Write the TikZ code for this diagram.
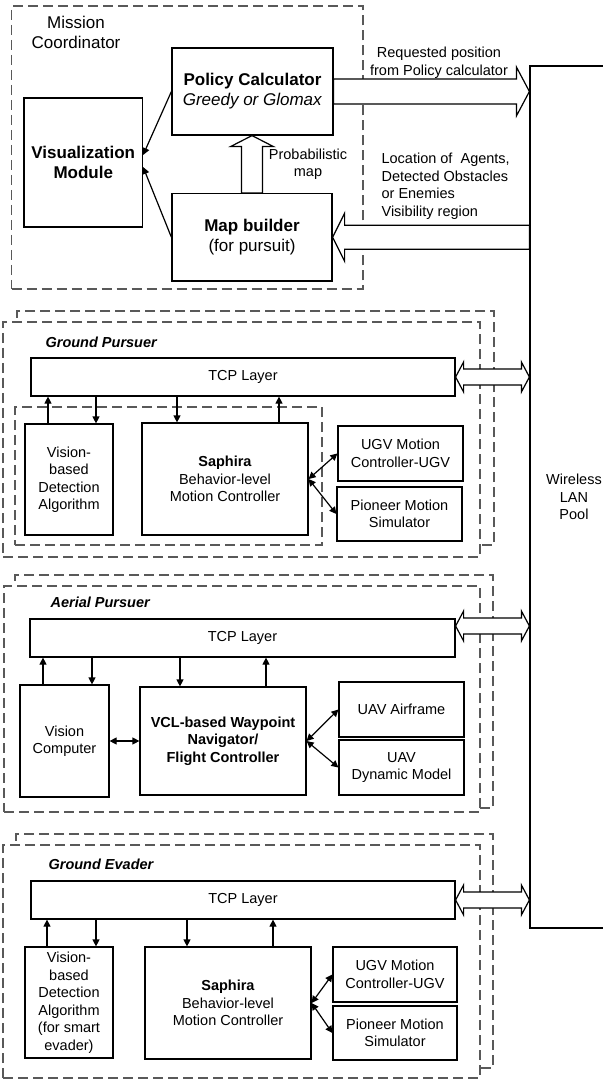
\documentclass[tikz,border=0pt]{standalone}
\usepackage{fontspec}
\setmainfont{Liberation Sans}
\usepackage{tikz}
\usetikzlibrary{arrows.meta,calc}

\newcommand{\lbfont}{\fontsize{7.25}{8.75}\selectfont}
\newcommand{\mcfont}{\fontsize{8.5}{10}\selectfont}

\tikzset{
  fat/.style n args={3}{to path={let \p1=(\tikztostart), \p2=(\tikztotarget),
      \n1={atan2(\y2-\y1,\x2-\x1)}, \n2={veclen(\x2-\x1,\y2-\y1)} in
      {[shift={(\p1)}, rotate=\n1] (0pt,-#1) -- ({\n2*1pt-#3},-#1) -- ({\n2*1pt-#3},-#2)
       -- ({\n2*1pt},0pt) -- ({\n2*1pt-#3},#2) -- ({\n2*1pt-#3},#1) -- (0pt,#1) -- cycle}}},
  dfat/.style n args={3}{to path={let \p1=(\tikztostart), \p2=(\tikztotarget),
      \n1={atan2(\y2-\y1,\x2-\x1)}, \n2={veclen(\x2-\x1,\y2-\y1)} in
      {[shift={(\p1)}, rotate=\n1] (0pt,0pt) -- (#3,#2) -- (#3,#1) -- ({\n2*1pt-#3},#1)
       -- ({\n2*1pt-#3},#2) -- ({\n2*1pt},0pt) -- ({\n2*1pt-#3},-#2) -- ({\n2*1pt-#3},-#1)
       -- (#3,-#1) -- (#3,-#2) -- cycle}}}
}

\begin{document}
\begin{tikzpicture}[x=0.5pt, y=-0.5pt, line width=0.6pt,
    >={Triangle[length=3.5pt,width=3.5pt]},
    box/.style={draw, fill=white, inner sep=0pt, align=center, font=\lbfont},
    mcbox/.style={box, font=\mcfont},
    grp/.style={draw=black!65, dash pattern=on 5pt off 2.5pt, inner sep=0pt},
    txt/.style={inner sep=0pt, align=center, font=\lbfont},
    tag/.style={inner sep=0pt, anchor=west, font=\lbfont\bfseries\itshape},
    hollow/.style={draw, fill=white}]

  \useasboundingbox (0,0) rectangle (603,1080);

  % mission coordinator
  \node[grp, minimum width=175.75pt, minimum height=141.5pt] (mc) at (187.25,147.5) {};
  \node[txt, font=\mcfont] (mcl) at (76,32) {Mission\\Coordinator};
  \node[mcbox, minimum width=80.5pt, minimum height=43.5pt] (pc) at (252.5,91.5)
       {\textbf{Policy Calculator}\\\textit{Greedy or Glomax}};
  \node[mcbox, minimum width=59.25pt, minimum height=64.5pt] (vm) at (83.25,162.5)
       {\textbf{Visualization}\\\textbf{Module}};
  \node[mcbox, minimum width=80pt, minimum height=43.75pt] (mb) at (252,237.25)
       {\textbf{Map builder}\\(for pursuit)};
  \node[txt] (prob) at (308,164.5) {Probabilistic\\map};
  \node[txt] (req) at (439,63) {Requested position\\from Policy calculator};
  \node[txt, anchor=west, align=left] (loc) at (381,186.5)
       {Location of~ Agents,\\Detected Obstacles\\or Enemies\\Visibility region};

  \node[box, minimum width=44pt, minimum height=431pt] (wl) at (574,497) {Wireless\\LAN\\Pool};

  % ground pursuer
  \node[grp, minimum width=238.5pt, minimum height=117pt] (gpb) at (255.5,428) {};
  \node[grp, fill=white, minimum width=238.5pt, minimum height=117.5pt] (gpf) at (241.5,439.5) {};
  \node[tag] (gpl) at (45,342) {Ground Pursuer};
  \node[box, minimum width=212pt, minimum height=19pt] (tcp1) at (243,377) {TCP Layer};
  \node[grp, minimum width=153.5pt, minimum height=69pt] (gpi) at (168.5,476) {};
  \node[box, minimum width=44pt, minimum height=55.5pt] (vd1) at (69,479.5)
       {Vision-\\based\\Detection\\Algorithm};
  \node[box, minimum width=83pt, minimum height=56pt] (sa1) at (225,479)
       {\textbf{Saphira}\\Behavior-level\\Motion Controller};
  \node[box, minimum width=62.5pt, minimum height=27.5pt] (ugv1) at (400.5,453.5)
       {UGV Motion\\Controller-UGV};
  \node[box, minimum width=62.5pt, minimum height=27pt] (pio1) at (399.5,514)
       {Pioneer Motion\\Simulator};

  % aerial pursuer
  \node[grp, minimum width=239pt, minimum height=116.5pt] (apb) at (254,691.5) {};
  \node[grp, fill=white, minimum width=238pt, minimum height=113pt] (apf) at (242,699) {};
  \node[tag] (apl) at (50,602) {Aerial Pursuer};
  \node[box, minimum width=212.5pt, minimum height=19pt] (tcp2) at (242.5,638) {TCP Layer};
  \node[box, minimum width=44.5pt, minimum height=56pt] (vc) at (64.5,741)
       {Vision\\Computer};
  \node[box, minimum width=83pt, minimum height=54pt, font=\lbfont\bfseries] (vcl) at (223,741)
       {VCL-based Waypoint\\Navigator/\\Flight Controller};
  \node[box, minimum width=62.5pt, minimum height=27.5pt] (uaf) at (401.5,709.5)
       {UAV Airframe};
  \node[box, minimum width=62.5pt, minimum height=27.5pt] (udm) at (401.5,767.5)
       {UAV\\Dynamic Model};

  % ground evader
  \node[grp, minimum width=238.5pt, minimum height=117pt] (geb) at (254.5,951) {};
  \node[grp, fill=white, minimum width=238.5pt, minimum height=116.5pt] (gef) at (241.5,961.5) {};
  \node[tag] (gel) at (48,864) {Ground Evader};
  \node[box, minimum width=212pt, minimum height=19pt] (tcp3) at (243,900) {TCP Layer};
  \node[box, minimum width=44pt, minimum height=55.5pt] (vd3) at (69,1002.5)
       {Vision-\\based\\Detection\\Algorithm\\(for smart\\evader)};
  \node[box, minimum width=83pt, minimum height=56pt] (sa3) at (228,1003)
       {\textbf{Saphira}\\Behavior-level\\Motion Controller};
  \node[box, minimum width=62pt, minimum height=27.5pt] (ugv3) at (395,974.5)
       {UGV Motion\\Controller-UGV};
  \node[box, minimum width=62pt, minimum height=27pt] (pio3) at (395,1033)
       {Pioneer Motion\\Simulator};

  % fat arrows
  \draw[hollow, fat={5.25pt}{10.75pt}{5.5pt}] (mb.north) to (mb.north |- pc.south);
  \draw[hollow, fat={6.25pt}{12.25pt}{6.5pt}] (pc.east) to (pc.east -| wl.west);
  \draw[hollow, fat={6pt}{12pt}{6pt}] (mb.east -| wl.west) to (mb.east);
  \draw[hollow, dfat={4pt}{7.5pt}{4pt}] (tcp1.east) to (tcp1.east -| wl.west);
  \draw[hollow, dfat={4pt}{7.5pt}{4pt}] ([yshift=6pt]tcp2.east) to ([yshift=6pt]tcp2.east -| wl.west);
  \draw[hollow, dfat={4pt}{7.5pt}{4pt}] (tcp3.east) to (tcp3.east -| wl.west);

  % small arrows
  \path[->] (pc.west) edge ([yshift=3.75pt]vm.east)
            (mb.west) edge ([yshift=-2.25pt]vm.east);

  \path[->] ([xshift=-10.5pt]vd1.north) edge ([xshift=-10.5pt]vd1.north |- tcp1.south)
            ([xshift=13.5pt]vd1.north |- tcp1.south) edge ([xshift=13.5pt]vd1.north)
            ([xshift=-24pt]sa1.north |- tcp1.south) edge ([xshift=-24pt]sa1.north)
            ([xshift=27pt]sa1.north) edge ([xshift=27pt]sa1.north |- tcp1.south)
            (sa1.east) edge[<->] (ugv1.west)
            (sa1.east) edge[<->] (pio1.west);

  \path[->] ([xshift=-10.75pt]vc.north) edge ([xshift=-10.75pt]vc.north |- tcp2.south)
            ([xshift=13.75pt]vc.north |- tcp2.south) edge ([xshift=13.75pt]vc.north)
            ([xshift=-21.5pt]vcl.north |- tcp2.south) edge ([xshift=-21.5pt]vcl.north)
            ([xshift=21.5pt]vcl.north) edge ([xshift=21.5pt]vcl.north |- tcp2.south)
            (vc.east) edge[<->] (vcl.west)
            (vcl.east) edge[<->] (uaf.west)
            (vcl.east) edge[<->] (udm.west);

  \path[->] ([xshift=-11pt]vd3.north) edge ([xshift=-11pt]vd3.north |- tcp3.south)
            ([xshift=13.5pt]vd3.north |- tcp3.south) edge ([xshift=13.5pt]vd3.north)
            ([xshift=-20.5pt]sa3.north |- tcp3.south) edge ([xshift=-20.5pt]sa3.north)
            ([xshift=22.5pt]sa3.north) edge ([xshift=22.5pt]sa3.north |- tcp3.south)
            (sa3.east) edge[<->] (ugv3.west)
            (sa3.east) edge[<->] (pio3.west);
\end{tikzpicture}
\end{document}
